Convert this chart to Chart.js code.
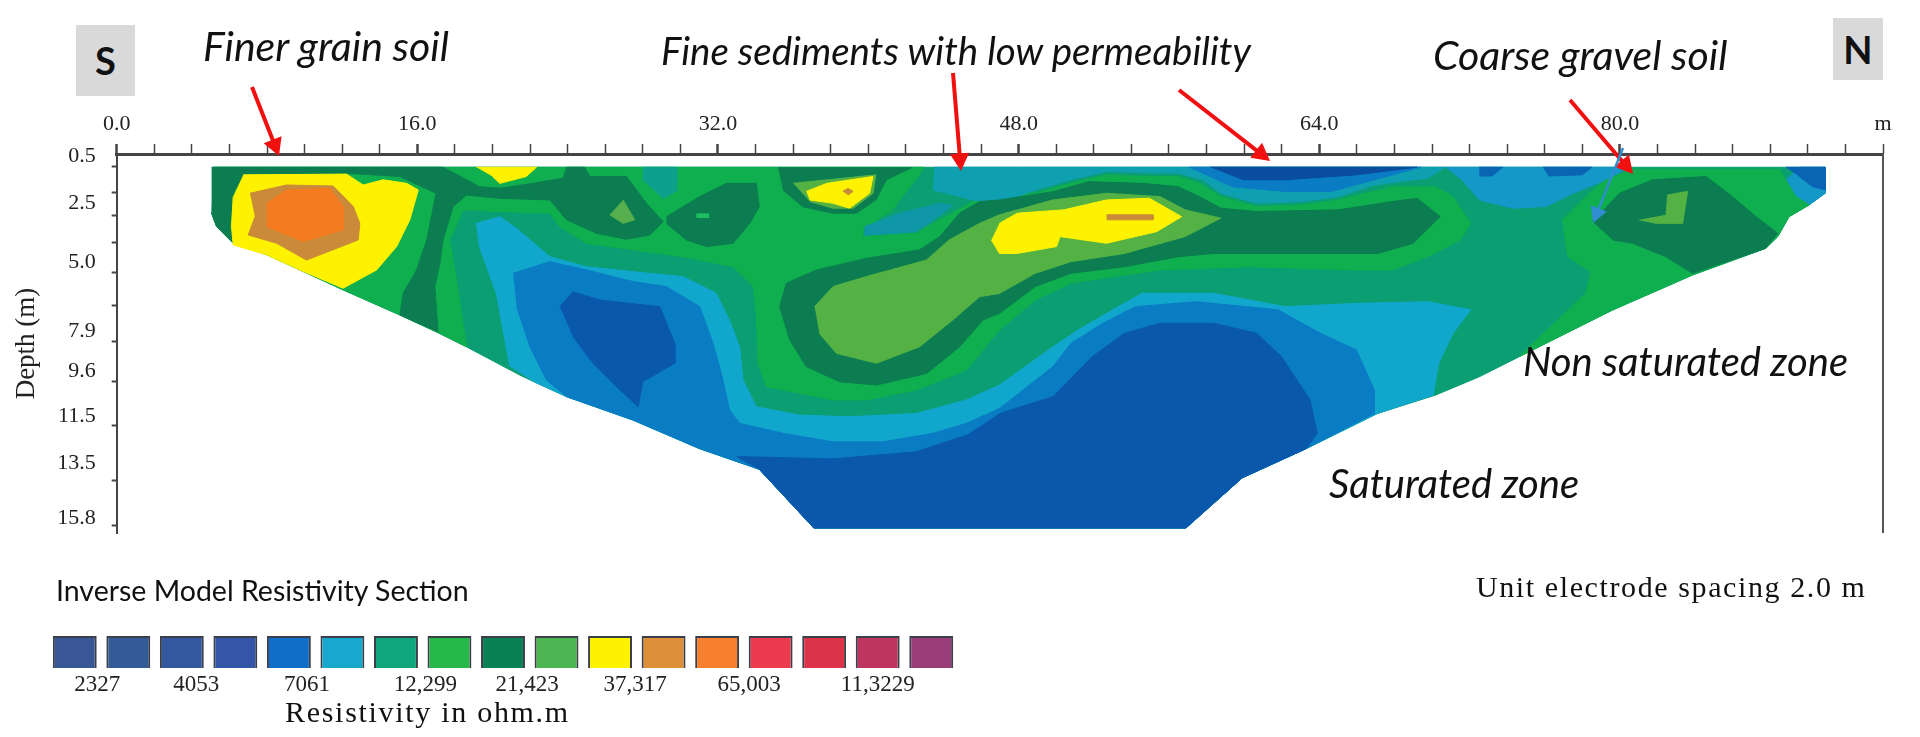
<!DOCTYPE html>
<html>
<head>
<meta charset="utf-8">
<title>Inverse Model Resistivity Section</title>
<script src="https://cdn.jsdelivr.net/npm/chart.js@4"></script>
<style>
  body { margin: 0; background: #fff; width: 1920px; height: 737px; overflow: hidden; position: relative; }
  #section { position: absolute; left: 0; top: 0; filter: blur(0.5px); }
  #scale { position: absolute; left: 48px; top: 636px; filter: blur(0.5px); }
  .note { position: absolute; white-space: nowrap; line-height: 1; color: #111; font-family: Lato, sans-serif; }
  .zone { font-style: italic; font-size: 40px; }
  .box { background: #d9d9d9; font-weight: 700; font-size: 38px; text-align: center; }
  .serif { font-family: "Liberation Serif", serif; }
</style>
</head>
<body>
<canvas id="section" width="1920" height="737"></canvas>
<canvas id="scale" width="910" height="62"></canvas>

<div class="note box" style="left:76px;top:25px;width:59px;height:71px;line-height:71px">S</div>
<div class="note box" style="left:1833px;top:18px;width:50px;height:62px;line-height:62px">N</div>
<div class="note zone" style="left:203px;top:25px;font-size:41px">Finer grain soil</div>
<div class="note zone" style="left:661px;top:31px;font-size:38.5px">Fine sediments with low permeability</div>
<div class="note zone" style="left:1433px;top:34px;font-size:41px">Coarse gravel soil</div>
<div class="note zone" style="left:1523px;top:341px">Non saturated zone</div>
<div class="note zone" style="left:1329px;top:463px">Saturated zone</div>
<div class="note" style="left:56px;top:576px;font-size:28.5px">Inverse Model Resistivity Section</div>
<div class="note serif" style="left:1476px;top:572px;font-size:30px;letter-spacing:1.6px">Unit electrode spacing 2.0 m</div>
<div class="note serif" style="left:285px;top:697px;font-size:30px;letter-spacing:1.7px">Resistivity in ohm.m</div>

<script>
// section outlines, [distance m, depth m]
const outline = [[5.14,0.98],[90.92,0.98],[90.92,2.08],[90.07,2.57],[89,3.07],[88.4,3.91],[87.77,4.4],[83.87,5.53],[79.61,7.01],[74.65,8.98],[72.52,9.83],[70.2,10.6],[67.1,11.38],[63.32,12.86],[59.9,14.1],[56.9,16.22],[37.1,16.22],[34.2,13.74],[31,12.86],[27.48,11.66],[23.94,10.67],[22.2,10.04],[21.45,9.76],[18.6,8.56],[17,7.93],[15.07,7.22],[12.05,6.16],[8,4.68],[6.2,4.19],[5.32,3.49],[5.05,2.92]];
const greenBand = [[5.14,0.98],[43,0.98],[41.3,2.78],[39.7,3.63],[39.7,3.91],[42.55,3.77],[43.44,3.35],[45.57,2.43],[48.05,2.08],[48.88,2.08],[50.78,1.66],[52.68,1.3],[54.58,1.37],[56.48,1.37],[57.62,1.66],[58.76,2.22],[60.66,2.64],[63.13,2.57],[65.03,2.36],[67.88,1.8],[70.16,1.8],[71.11,2.22],[72.06,3.35],[71.49,4.05],[69.78,4.76],[67.88,5.32],[65.98,5.32],[60.28,5.18],[55.53,5.32],[53.06,5.6],[50.78,5.88],[48.88,6.59],[46.98,7.86],[45.21,9.55],[42.55,10.39],[39.89,10.81],[38.12,10.81],[36.35,10.53],[34.57,10.25],[34.13,9.26],[34.04,7.15],[33.87,6.02],[32.8,5.18],[30.14,4.76],[27.48,4.47],[25,4.19],[23.58,3.49],[23.05,2.92],[20.39,2.85],[18.44,2.78],[17.73,4.05],[18.08,5.74],[18.62,8.56],[17,7.93],[15.07,7.22],[12.05,6.16],[8,4.68],[6.2,4.19],[5.32,3.49],[5.05,2.92]];
const cyanBand = [[20.92,9.4],[20.2,6.3],[19.3,4.33],[19.15,3.35],[20.39,3.07],[21.28,3.56],[23.05,4.76],[25,5.18],[27.48,5.39],[30.14,5.6],[31.9,6.3],[32.6,7.43],[33.15,8.56],[33.33,9.97],[34.04,11.1],[36.35,11.45],[39,11.52],[42.55,11.38],[45.21,10.81],[46.98,10.18],[49.83,8.56],[51.16,7.86],[52.68,7.15],[54.58,6.3],[58.38,6.3],[62.18,6.87],[65.98,6.73],[69.78,6.66],[72.06,7],[71.11,8],[70.35,9.26],[70.07,10.6],[67.1,11.38],[63.32,12.86],[59.9,14.1],[56.9,16.22],[37.1,16.22],[34.2,13.74],[31,12.86],[27.48,11.66],[23.94,10.67],[22.2,10.04]];
const blueBand = [[21.1,5.46],[23.05,4.97],[25,5.32],[27.48,5.81],[29.26,6.02],[31.03,6.87],[31.74,8.42],[32.18,9.69],[32.62,11.24],[33.16,11.8],[35.46,12.22],[38.12,12.58],[40.78,12.58],[43.44,12.22],[45.21,11.8],[46.98,11.17],[49.83,9.4],[50.78,8.42],[52.49,7.57],[54.2,6.87],[57.43,6.66],[61.8,7],[64.08,8],[65.98,8.7],[66.93,10.39],[66.93,11.38],[63.32,12.86],[59.9,14.1],[56.9,16.22],[37.1,16.22],[34.2,13.74],[31,12.86],[27.48,11.66],[23.94,10.67],[22.87,9.97],[21.99,8.56],[21.28,6.87]];
const deepLobe = [[23.58,6.87],[24.29,6.24],[25.71,6.59],[28.9,6.87],[29.7,8.42],[29.7,9.26],[28,10.04],[27.75,11.1],[26.6,10.25],[25.35,9.26],[24.29,8.14]];
const deepDome = [[46.98,11.38],[49.83,10.67],[51.92,8.98],[53.63,7.99],[55.53,7.57],[58.38,7.57],[60.66,7.99],[61.99,8.98],[63.51,10.81],[63.89,12.22],[63.32,12.86],[59.9,14.1],[56.9,16.22],[37.1,16.22],[34.2,13.74],[33,13.2],[38.12,13.3],[42.55,13],[45.21,12.3]];
const topTeal = [[28,0.98],[29.8,0.98],[29.8,1.98],[29.08,2.3],[28,1.5]];
const topCyan = [[43.5,0.98],[70.7,0.98],[69.78,1.44],[66.93,1.73],[65.03,2.22],[63.13,2.43],[60.66,2.5],[58.76,2.08],[57.8,1.51],[56.5,1.23],[52.68,1.16],[50.78,1.51],[48.88,1.94],[46.98,2.5],[45.57,2.36],[43.44,1.94]];
const bluePatch = [[39.8,3.49],[41.67,2.92],[43.8,2.5],[44.5,2.6],[43.3,3.3],[42.55,3.7],[39.8,3.85]];
const topBlue = [[57.05,0.98],[69.4,0.98],[66.93,1.51],[64.65,2],[62.18,2],[59.33,1.8]];
const topDeep = [[58.2,0.98],[69.2,0.98],[65.98,1.3],[62.18,1.51],[59.9,1.51]];
const rightCyan = [[70.7,0.98],[80.5,0.98],[79.26,1.51],[77.5,2.08],[76.07,2.64],[74.3,2.71],[72.52,2.36],[71.7,1.6]];
const endCyan = [[89.54,0.98],[90.92,0.98],[90.92,2.08],[90.07,2.57],[89.36,2.22],[88.83,1.51]];
const endBlue = [[88.83,0.98],[90.92,0.98],[90.92,1.94],[90.25,1.8],[89.54,1.37]];
const bitOne = [[72.52,0.98],[73.76,0.98],[73.2,1.35],[72.52,1.35]];
const bitTwo = [[75.9,0.98],[78.5,0.98],[78,1.3],[76.2,1.35]];
const rightGreen = [[80.5,1.06],[88.5,1.06],[88.83,1.51],[89.36,2.22],[90.07,2.57],[89,3.07],[88.4,3.91],[87.77,4.4],[83.87,5.53],[79.61,7.01],[74.65,8.98],[75.18,8.56],[78.19,6.3],[78.46,5.39],[77.22,4.76],[76.95,3.2],[78.37,2.08],[79.26,1.51]];
const rightLobe = [[78.55,3.28],[79.97,2.08],[81.74,1.51],[84.58,1.37],[85.99,2.22],[87.24,3.07],[88.4,3.77],[87.77,4.4],[83.87,5.46],[82.45,4.76],[80.68,4.19],[79.61,4.05]];
const rightCore = [[82.45,2.99],[82.54,2.15],[83.6,2],[83.34,3.35],[81.92,3.35],[81.03,3.2]];
const leftBand = [[5.05,0.98],[17.37,0.98],[18.62,1.51],[19.3,1.8],[20.39,1.87],[22.16,1.66],[23.76,1.44],[23.94,0.98],[24.9,0.98],[25.18,1.37],[27.13,1.37],[28.19,2.5],[29.08,3.28],[28.37,3.84],[27.13,4.02],[25.53,3.77],[23.94,3.2],[23.05,2.36],[20.39,2.29],[18.62,2.15],[17.9,2.64],[17.37,4.05],[17.2,5.04],[16.93,6.02],[17.1,7.93],[15.07,7.22],[15.25,6.3],[15.96,5.32],[16.5,4.05],[17,2.08],[15.07,1.37],[12.23,1.23],[6.74,1.3],[6.2,2.08],[6.03,3.49],[6.2,4.19],[5.32,3.49],[5.05,2.92]];
const secondLens = [[29.26,3.07],[31.03,2.22],[32.45,1.66],[34.04,1.66],[34.2,2.64],[33.69,3.35],[32.8,4.19],[31.4,4.33],[30.32,4.05],[29.26,3.35]];
const lensCore = [[26.95,2.36],[27.57,3.2],[26.95,3.35],[26.24,2.99]];
const lensDot = [[30.85,2.95],[31.5,2.95],[31.5,3.1],[30.85,3.1]];
const leftYellow = [[6.74,1.3],[12.23,1.27],[13.12,1.73],[14.18,1.51],[15.43,1.66],[16.05,1.94],[15.6,3.2],[14.9,4.33],[13.83,5.32],[12.05,6.09],[9.75,5.32],[7.98,4.68],[6.2,4.26],[6.11,3.49],[6.2,2.22]];
const leftTan = [[7.09,2.08],[9.04,1.73],[11.52,1.77],[12.59,2.64],[12.94,3.35],[12.85,4.05],[10.1,4.9],[8.51,4.19],[7,3.84],[7.36,3.07]];
const leftOrange = [[7.98,2.5],[9.04,1.94],[11.35,1.87],[12.05,2.64],[12.05,3.63],[9.93,4.12],[7.98,3.49]];
const topYellow = [[19.15,0.98],[22.34,0.98],[21.8,1.37],[20.39,1.66],[20,1.37]];
const midRing = [[35.2,1],[42.29,1],[40.96,1.51],[40.4,2.36],[39.36,2.92],[38.12,2.92],[36.5,2.64],[35.46,1.94]];
const midOlive = [[36,1.66],[40.4,1.3],[40.25,2.08],[39.2,2.71],[38.12,2.71],[36.88,2.43]];
const midYellow = [[36.7,2],[37.8,1.66],[40.25,1.37],[40.07,2.08],[39,2.71],[38.12,2.5],[36.88,2.36]];
const midDot = [[38.65,2],[38.92,1.87],[39.19,2],[38.92,2.15]];
const oxbow = [[70.45,3.07],[69.2,2.29],[67.88,2.43],[65.03,2.78],[63.13,2.81],[60.66,2.85],[58.76,2.71],[57.62,2.22],[56.48,1.8],[54.58,1.66],[51.73,1.59],[49.83,2.01],[46.98,2.36],[45.92,2.43],[44.86,2.92],[43.8,3.91],[42.73,4.47],[39.89,4.83],[37.23,5.32],[35.64,5.88],[35.28,6.87],[35.82,8.28],[36.7,9.4],[38.47,10.04],[40.43,10.18],[43.1,9.69],[44.86,8.56],[46.1,7.43],[46.98,7.15],[48.88,6.02],[50.78,5.46],[53.63,5.18],[56.48,4.76],[58.38,4.62],[62.18,4.62],[67.12,4.62],[69.02,4.19]];
const oxbowCore = [[37.14,6.87],[38.12,6.02],[39.89,5.6],[43.1,4.9],[44.3,4.05],[45.92,3.35],[46.98,2.99],[49.83,2.36],[52.68,2.08],[55.53,2.22],[56.86,2.78],[58.76,3.13],[56.86,3.91],[53.63,4.62],[50.78,4.97],[48.88,5.46],[46.98,6.31],[45.92,6.45],[44.5,7.43],[42.73,8.56],[40.43,9.26],[38.3,8.84],[37.4,8]];
const oxbowYellow = [[46.98,3.35],[47.93,2.92],[50.4,2.78],[52.68,2.36],[54.96,2.29],[56.67,3.07],[55.34,3.7],[52.68,4.19],[50.2,3.91],[50.02,4.33],[47.93,4.62],[46.98,4.62],[46.55,4.05]];
const oxbowBar = [[52.68,2.99],[55.15,2.99],[55.15,3.2],[52.68,3.2]];

const depthLabels = [0.5, 2.5, 5.0, 7.9, 9.6, 11.5, 13.5, 15.8];
const layerTicks = [0.96, 2.06, 3.03, 4.17, 5.44, 6.84, 8.36, 10.05, 11.87, 14.2, 16.1];
const distanceLabels = [0, 16, 32, 48, 64, 80];

// colour scale
const scaleSteps = [1, 2, 3, 4, 5, 6, 7, 8, 9, 10, 11, 12, 13, 14, 15, 16, 17];
const scaleColors = ["#3a5795", "#345a98", "#34589f", "#3556a8", "#0f6fc8", "#17a8ce", "#0fa67e", "#27b84a", "#0a8055", "#4db551", "#fff200", "#de8f3a", "#f77f2e", "#ee3a4f", "#dd3348", "#be3560", "#9a3c78"];
const scaleTickPos = [1.42, 3.27, 5.34, 7.55, 9.45, 11.47, 13.6, 16.0];
const scaleTickText = ["2327", "4053", "7061", "12,299", "21,423", "37,317", "65,003", "11,3229"];

const layers = [
  [outline, "#0a9e72"], [greenBand, "#0fae4e"], [cyanBand, "#11a7cc"], [blueBand, "#0a7cc4"],
  [deepLobe, "#0a58ac"], [deepDome, "#0a58ac"], [topTeal, "#0da08c"], [topCyan, "#0e9fb0"],
  [bluePatch, "#0f97a8"], [topBlue, "#0a7cc4"], [topDeep, "#0a4c9e"], [rightCyan, "#1398c8"],
  [endCyan, "#1398c8"], [endBlue, "#0a64b4"], [bitOne, "#0a64b4"], [bitTwo, "#0a64b4"],
  [rightGreen, "#0fae4e"], [rightLobe, "#0b7d50"], [rightCore, "#54b144"], [leftBand, "#0b7d50"],
  [secondLens, "#0b7d50"], [lensCore, "#56ae4c"], [lensDot, "#1dbf60"], [leftYellow, "#fff200"],
  [leftTan, "#c98b3a"], [leftOrange, "#f47b20"], [topYellow, "#fff200"], [midRing, "#0b7d50"],
  [midOlive, "#54b144"], [midYellow, "#fff200"], [midDot, "#c98b3a"], [oxbow, "#0b7d50"],
  [oxbowCore, "#54b144"], [oxbowYellow, "#fff200"], [oxbowBar, "#c98b3a"],
];

const datasets = layers.map((layer, i) => ({
  data: layer[0].map(p => ({ x: p[0], y: p[1] })),
  backgroundColor: layer[1],
  borderColor: layer[1],
  borderWidth: 1,
  fill: "shape",
  showLine: true,
  pointRadius: 0,
  order: layers.length - i + 1,
}));
// right hand frame line
datasets.push({
  data: [{ x: 94, y: 0.42 }, { x: 94, y: 16.43 }],
  borderColor: "#555",
  borderWidth: 2,
  showLine: true,
  pointRadius: 0,
  clip: false,
  order: 0,
});

function arrow(ctx, x1, y1, x2, y2, color, width, head) {
  const a = Math.atan2(y2 - y1, x2 - x1);
  ctx.strokeStyle = color;
  ctx.fillStyle = color;
  ctx.lineWidth = width;
  ctx.beginPath();
  ctx.moveTo(x1, y1);
  ctx.lineTo(x2 - head * 0.8 * Math.cos(a), y2 - head * 0.8 * Math.sin(a));
  ctx.stroke();
  ctx.beginPath();
  ctx.moveTo(x2, y2);
  ctx.lineTo(x2 - head * Math.cos(a - 0.5), y2 - head * Math.sin(a - 0.5));
  ctx.lineTo(x2 - head * Math.cos(a + 0.5), y2 - head * Math.sin(a + 0.5));
  ctx.closePath();
  ctx.fill();
}

const arrowsPlugin = {
  id: "arrows",
  afterDraw(chart) {
    const ctx = chart.ctx;
    ctx.save();
    arrow(ctx, 252, 87, 279, 156, "#f01010", 4, 20);
    arrow(ctx, 953, 73, 961, 171, "#f01010", 4, 20);
    arrow(ctx, 1179, 90, 1270, 161, "#f01010", 4, 20);
    arrow(ctx, 1570, 100, 1633, 174, "#f01010", 4, 20);
    arrow(ctx, 1623, 148, 1593, 223, "#2f8ed0", 2.5, 18);
    ctx.restore();
  },
};

const serif = "'Liberation Serif', serif";

new Chart(document.getElementById("section"), {
  type: "scatter",
  data: { datasets: datasets },
  plugins: [arrowsPlugin],
  options: {
    responsive: false,
    animation: false,
    layout: { padding: { left: 0, top: 0, right: 37, bottom: 204 } },
    plugins: { legend: { display: false }, tooltip: { enabled: false } },
    scales: {
      x: {
        type: "linear",
        position: "top",
        min: 0,
        max: 94,
        afterFit(scale) { scale.height = 154; },
        border: { color: "#444", width: 3 },
        grid: {
          drawOnChartArea: false,
          tickLength: 10,
          tickColor: "#444",
          tickWidth: c => (distanceLabels.includes(c.tick.value) ? 2.5 : 1.5),
        },
        ticks: {
          stepSize: 2,
          autoSkip: false,
          maxRotation: 0,
          padding: 7,
          color: "#222",
          font: { family: serif, size: 22 },
          callback: v => (distanceLabels.includes(v) ? v.toFixed(1) : v === 94 ? "m" : ""),
        },
      },
      y: {
        type: "linear",
        reverse: true,
        min: 0.42,
        max: 16.43,
        afterFit(scale) { scale.width = 116.7; },
        afterBuildTicks(scale) {
          scale.ticks = depthLabels.concat(layerTicks).sort((a, b) => a - b).map(v => ({ value: v }));
        },
        border: { color: "#444", width: 2 },
        grid: {
          drawOnChartArea: false,
          tickLength: 5,
          tickColor: c => (layerTicks.includes(c.tick.value) ? "#444" : "rgba(0,0,0,0)"),
          tickWidth: 2,
        },
        ticks: {
          autoSkip: false,
          padding: 16,
          color: "#222",
          font: { family: serif, size: 22 },
          callback: v => (depthLabels.includes(v) ? v.toFixed(1) : ""),
        },
        title: {
          display: true,
          text: "Depth (m)",
          color: "#222",
          padding: { top: 11, bottom: 0 },
          font: { family: serif, size: 27 },
        },
      },
    },
  },
});

new Chart(document.getElementById("scale"), {
  type: "bar",
  data: {
    datasets: [{
      data: scaleSteps.map(s => ({ x: s, y: 1 })),
      backgroundColor: scaleColors,
      borderColor: "#3a3f4a",
      borderWidth: 2,
      barPercentage: 0.82,
      categoryPercentage: 1,
    }],
  },
  options: {
    responsive: false,
    animation: false,
    layout: { padding: 0 },
    plugins: { legend: { display: false }, tooltip: { enabled: false } },
    scales: {
      x: {
        type: "linear",
        offset: false,
        min: 0.5,
        max: 17.5,
        afterFit(scale) { scale.height = 30; },
        afterBuildTicks(scale) { scale.ticks = scaleTickPos.map(v => ({ value: v })); },
        border: { display: false },
        grid: { display: false, drawTicks: false },
        ticks: {
          autoSkip: false,
          maxRotation: 0,
          padding: 3,
          color: "#222",
          font: { family: serif, size: 23 },
          callback: v => scaleTickText[scaleTickPos.indexOf(v)],
        },
      },
      y: { display: false, min: 0, max: 1 },
    },
  },
});
</script>
</body>
</html>
